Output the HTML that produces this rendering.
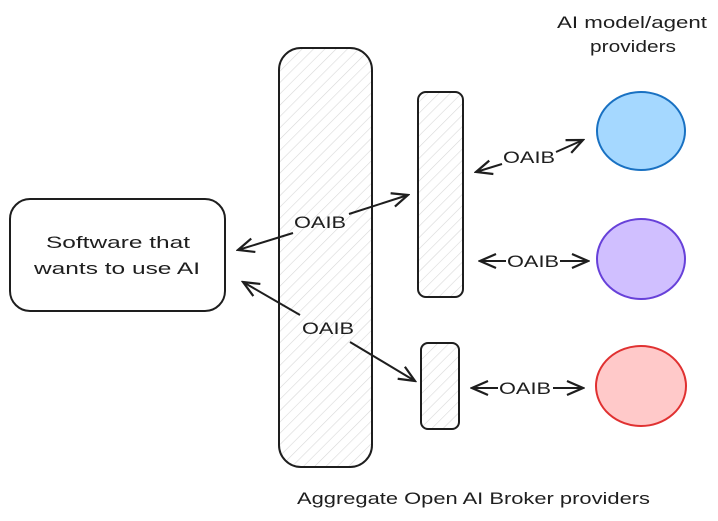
<!DOCTYPE html>
<html><head><style>
html,body{margin:0;padding:0;background:#fff;}
svg{display:block;}
text{font-family:"Liberation Sans","DejaVu Sans",sans-serif;font-size:17px;fill:#1e1e1e;}
</style></head><body>
<svg width="718" height="521" viewBox="0 0 718 521" xmlns="http://www.w3.org/2000/svg">
<defs>
<pattern id="h" patternUnits="userSpaceOnUse" width="8" height="8" patternTransform="rotate(45)">
<line x1="0" y1="0" x2="0" y2="8" stroke="#d8d8d8" stroke-width="1.2"/>
</pattern>
<marker id="a" viewBox="0 0 20 20" refX="18" refY="10" markerWidth="20" markerHeight="20" markerUnits="userSpaceOnUse" orient="auto-start-reverse">
<path d="M2 3 L18 10 L2 17" fill="none" stroke="#1e1e1e" stroke-width="2.2"/>
</marker>
</defs>
<g fill="none" stroke="#1e1e1e" stroke-width="2">
<rect x="10" y="199" width="215" height="112" rx="20" fill="#fff"/>
<rect x="279" y="48" width="93" height="419" rx="22" fill="url(#h)"/>
<rect x="418" y="92" width="45" height="205" rx="8" fill="url(#h)"/>
<rect x="421" y="343" width="38" height="86" rx="7" fill="url(#h)"/>
<ellipse cx="641" cy="131" rx="44" ry="39" fill="#a5d8ff" stroke="#1971c2"/>
<ellipse cx="641" cy="259" rx="44" ry="40" fill="#d0bfff" stroke="#6741d9"/>
<ellipse cx="641" cy="386" rx="45" ry="40" fill="#ffc9c9" stroke="#e03131"/>
<line x1="238" y1="250" x2="293" y2="233" marker-start="url(#a)"/>
<line x1="349" y1="214" x2="408" y2="195" marker-end="url(#a)"/>
<line x1="243" y1="282" x2="300" y2="315" marker-start="url(#a)"/>
<line x1="350" y1="342" x2="415" y2="381" marker-end="url(#a)"/>
<line x1="476" y1="172" x2="502" y2="164" marker-start="url(#a)"/>
<line x1="556" y1="152" x2="583" y2="140" marker-end="url(#a)"/>
<line x1="480" y1="261" x2="506" y2="261" marker-start="url(#a)"/>
<line x1="560" y1="261" x2="588" y2="261" marker-end="url(#a)"/>
<line x1="472" y1="388" x2="498" y2="388" marker-start="url(#a)"/>
<line x1="553" y1="388" x2="583" y2="388" marker-end="url(#a)"/>
</g>
<text x="46" y="248" textLength="144" lengthAdjust="spacingAndGlyphs">Software that</text>
<text x="34" y="274" textLength="166" lengthAdjust="spacingAndGlyphs">wants to use AI</text>
<text x="294" y="228" textLength="52" lengthAdjust="spacingAndGlyphs">OAIB</text>
<text x="302" y="334" textLength="52" lengthAdjust="spacingAndGlyphs">OAIB</text>
<text x="503" y="163" textLength="52" lengthAdjust="spacingAndGlyphs">OAIB</text>
<text x="507" y="267" textLength="52" lengthAdjust="spacingAndGlyphs">OAIB</text>
<text x="499" y="394" textLength="52" lengthAdjust="spacingAndGlyphs">OAIB</text>
<text x="557" y="28" textLength="150" lengthAdjust="spacingAndGlyphs">AI model/agent</text>
<text x="590" y="52" textLength="86" lengthAdjust="spacingAndGlyphs">providers</text>
<text x="297" y="504" textLength="353" lengthAdjust="spacingAndGlyphs">Aggregate Open AI Broker providers</text>
</svg>
</body></html>
